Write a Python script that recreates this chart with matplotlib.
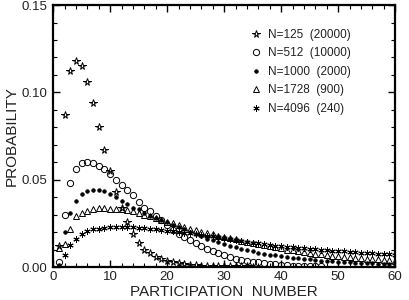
import matplotlib
matplotlib.use("Agg")
import matplotlib.pyplot as plt
import numpy as np
from matplotlib.ticker import MultipleLocator, FormatStrFormatter

plt.rcParams['font.family'] = ['Liberation Sans', 'DejaVu Sans']

x125 = list(range(1, 36))
p125 = [0.012, 0.087, 0.112, 0.118, 0.115, 0.106, 0.094, 0.080, 0.067, 0.055,
        0.043, 0.034, 0.026, 0.019, 0.014, 0.010, 0.008, 0.006, 0.0045, 0.0035,
        0.0028, 0.0022, 0.0017, 0.0013, 0.0010, 0.0008, 0.0007, 0.0006, 0.0005, 0.0005,
        0.0004, 0.0004, 0.0003, 0.0003, 0.0002]

x512 = list(range(1, 48))
p512 = [0.003, 0.030, 0.048, 0.056, 0.0595, 0.060, 0.0595, 0.058, 0.056, 0.053,
        0.050, 0.047, 0.044, 0.041, 0.037, 0.034, 0.032, 0.029, 0.027, 0.024,
        0.021, 0.019, 0.017, 0.0155, 0.0135, 0.0118, 0.0103, 0.0090, 0.0078, 0.0067,
        0.0057, 0.0048, 0.0041, 0.0035, 0.0030, 0.0026, 0.0022, 0.0018, 0.0015, 0.0012,
        0.0010, 0.0008, 0.0007, 0.0006, 0.0005, 0.0004, 0.0003]

x1000 = list(range(1, 61))
p1000 = [0.001, 0.020, 0.031, 0.038, 0.042, 0.0435, 0.044, 0.044, 0.0435, 0.042,
         0.040, 0.038, 0.036, 0.034, 0.033, 0.031, 0.029, 0.028, 0.027, 0.026,
         0.024, 0.023, 0.022, 0.020, 0.019, 0.0175, 0.0163, 0.0152, 0.0142, 0.0132,
         0.0122, 0.0113, 0.0105, 0.0097, 0.0090, 0.0083, 0.0077, 0.0071, 0.0066, 0.0061,
         0.0057, 0.0053, 0.0050, 0.0046, 0.0043, 0.0040, 0.0037, 0.0035, 0.0032, 0.0030,
         0.0028, 0.0026, 0.0025, 0.0023, 0.0022, 0.0021, 0.0020, 0.0019, 0.0018, 0.0017]

x1728 = list(range(1, 61))
p1728 = [0.011, 0.013, 0.022, 0.029, 0.031, 0.032, 0.033, 0.034, 0.034, 0.0335,
         0.0335, 0.033, 0.0325, 0.032, 0.031, 0.030, 0.029, 0.028, 0.027, 0.026,
         0.025, 0.024, 0.023, 0.022, 0.021, 0.020, 0.0195, 0.019, 0.018, 0.017,
         0.0165, 0.016, 0.015, 0.0145, 0.014, 0.0133, 0.0126, 0.0119, 0.0112, 0.0106,
         0.0100, 0.0095, 0.0090, 0.0085, 0.0080, 0.0076, 0.0072, 0.0068, 0.0064, 0.0061,
         0.0058, 0.0055, 0.0052, 0.0050, 0.0047, 0.0045, 0.0043, 0.0041, 0.0039, 0.0037]

x4096 = list(range(2, 61))
p4096 = [0.007, 0.0125, 0.016, 0.019, 0.0205, 0.0215, 0.022, 0.0225, 0.023, 0.023,
         0.023, 0.023, 0.0228, 0.0225, 0.0222, 0.022, 0.0217, 0.0213, 0.0209, 0.0205,
         0.0201, 0.0197, 0.0193, 0.0189, 0.0185, 0.0180, 0.0175, 0.0170, 0.0165, 0.0160,
         0.0155, 0.0150, 0.0145, 0.0140, 0.0135, 0.0131, 0.0127, 0.0123, 0.0120, 0.0117,
         0.0114, 0.0111, 0.0108, 0.0105, 0.0102, 0.0099, 0.0096, 0.0093, 0.0091, 0.0089,
         0.0087, 0.0085, 0.0083, 0.0081, 0.0079, 0.0077, 0.0075, 0.0073, 0.0071]

labels = ["N=125  (20000)", "N=512  (10000)", "N=1000  (2000)",
          "N=1728  (900)", "N=4096  (240)"]

txt = '#222222'
fig = plt.figure(figsize=(4.09, 3.0), dpi=100)
ax = fig.add_axes([0.130, 0.11, 0.836, 0.873])

k = dict(linestyle='none', color='black')
ax.plot(x125, p125, marker='*', markersize=5.5, markerfacecolor='none', markeredgewidth=0.7, label=labels[0], **k)
ax.plot(x512, p512, marker='o', markersize=4.5, markerfacecolor='none', markeredgewidth=0.7, label=labels[1], **k)
ax.plot(x1000, p1000, marker='o', markersize=2.6, markerfacecolor='black', markeredgewidth=0.5, label=labels[2], **k)
ax.plot(x1728, p1728, marker='^', markersize=4.5, markerfacecolor='none', markeredgewidth=0.7, label=labels[3], **k)
ax.plot(x4096, p4096, marker=(6, 2, 0), markersize=4.5, markeredgewidth=0.7, label=labels[4], **k)

ax.set_xlim(0, 60)
ax.set_ylim(0, 0.15)
ax.xaxis.set_major_locator(MultipleLocator(10))
ax.xaxis.set_minor_locator(MultipleLocator(2))
ax.yaxis.set_major_locator(MultipleLocator(0.05))
ax.yaxis.set_minor_locator(MultipleLocator(0.01))
ax.yaxis.set_major_formatter(FormatStrFormatter('%.2f'))
ax.tick_params(which='both', direction='in', top=True, right=True, labelsize=9.5,
               labelcolor=txt, color='black')
ax.tick_params(axis='x', pad=3)
ax.tick_params(axis='y', pad=4)
ax.tick_params(which='major', length=5, width=1.0)
ax.tick_params(which='minor', length=3, width=0.8)
for s in ax.spines.values():
    s.set_linewidth(1.6)

ax.set_xlabel("PARTICIPATION  NUMBER", fontsize=11, labelpad=1, color=txt)
ax.set_ylabel("PROBABILITY", fontsize=11, labelpad=2, color=txt)

leg = ax.legend(loc='upper left', bbox_to_anchor=(0.575, 0.91), frameon=False, fontsize=8.5,
                handlelength=1.0, handletextpad=0.55, labelspacing=0.55, borderpad=0, borderaxespad=0)
for t in leg.get_texts():
    t.set_color(txt)

fig.savefig("out.png", dpi=100)
